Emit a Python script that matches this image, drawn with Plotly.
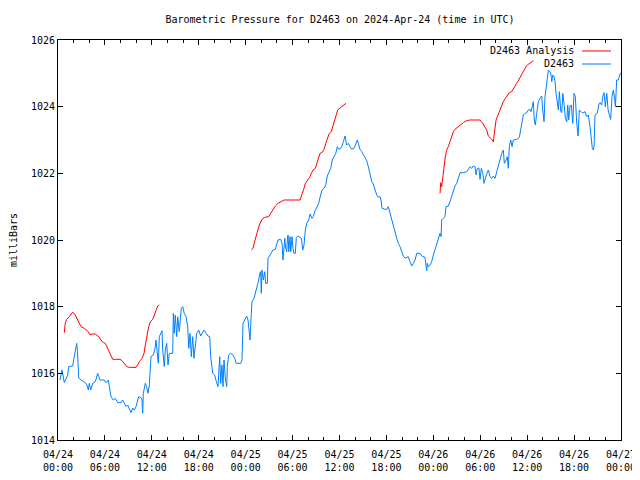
import datetime as dt
import plotly.graph_objects as go

# ---- data (hours since 2024-04-24 00:00 UTC, pressure in mbar) ----
obs_hours = [0.26, 0.51, 0.81, 1.24, 1.37, 1.88, 2.08, 2.30, 2.39, 2.49, 2.65, 2.94, 3.36, 3.71, 3.88, 4.00, 4.18, 4.44, 4.77, 5.08,
             5.37, 5.92, 6.14, 6.43, 6.56, 6.78, 7.07, 7.33, 7.64, 8.06, 8.27, 8.48, 8.70, 8.91, 9.12, 9.34, 9.55, 9.76, 9.98, 10.19,
             10.32, 10.62, 10.74, 10.83, 10.91, 11.17, 11.34, 11.51, 11.68, 11.89, 12.19, 12.41, 12.53, 12.66, 12.83, 12.96, 13.17, 13.30, 13.39, 13.59,
             13.72, 13.90, 14.07, 14.23, 14.67, 14.75, 14.87, 15.00, 15.18, 15.31, 15.51, 15.64, 15.77, 15.95, 16.15, 16.37, 16.59, 16.72, 16.88, 17.05,
             17.23, 17.39, 17.56, 17.74, 17.99, 18.25, 18.67, 19.18, 19.40, 19.53, 19.78, 20.04, 20.25, 20.46, 20.68, 20.81, 20.97, 21.10, 21.23, 21.40,
             21.58, 21.65, 21.83, 22.09, 22.38, 22.60, 22.80, 23.37, 23.53, 23.66, 23.88, 24.13, 24.30, 24.39, 24.56, 24.72, 24.81, 25.07, 25.23, 25.49,
             25.67, 25.80, 25.92, 26.00, 26.09, 26.26, 26.44, 26.56, 26.77, 26.86, 27.08, 27.28, 27.50, 27.79, 27.97, 28.14, 28.48, 28.65, 28.78, 28.91,
             29.00, 29.12, 29.25, 29.33, 29.42, 29.51, 29.67, 29.76, 29.93, 30.05, 30.18, 30.35, 30.48, 30.69, 30.95, 31.12, 31.30, 31.46, 31.63, 31.81,
             32.06, 32.23, 32.48, 32.65, 32.83, 33.09, 33.34, 33.51, 33.76, 34.02, 34.24, 34.44, 34.62, 34.88, 35.08, 35.30, 35.52, 35.72, 35.90, 36.16,
             36.32, 36.49, 36.71, 36.92, 37.13, 37.34, 37.56, 37.86, 38.11, 38.28, 38.41, 38.62, 38.84, 39.05, 39.26, 39.48, 39.69, 39.90, 40.12, 40.32,
             40.54, 40.76, 40.96, 41.18, 41.31, 41.44, 41.82, 42.04, 42.24, 42.37, 42.55, 42.81, 42.97, 43.14, 43.32, 43.52, 43.74, 43.96, 44.16, 44.38,
             44.60, 44.80, 45.02, 45.24, 45.44, 45.66, 45.88, 46.30, 46.51, 46.72, 46.94, 47.07, 47.16, 47.23, 47.36, 47.58, 47.79, 48.00, 48.22, 48.43,
             48.64, 48.86, 48.99, 49.07, 49.28, 49.49, 49.62, 49.92, 50.13, 50.35, 50.56, 50.77, 50.99, 51.20, 51.41, 51.84, 52.27, 52.48, 52.69, 52.91,
             53.11, 53.33, 53.46, 53.63, 53.84, 53.97, 54.14, 54.32, 54.48, 54.74, 55.03, 55.25, 55.47, 55.67, 55.89, 56.11, 56.31, 56.53, 56.75, 56.95,
             57.08, 57.30, 57.46, 57.59, 57.72, 57.90, 58.06, 58.23, 58.66, 59.00, 59.17, 59.34, 59.51, 59.72, 59.94, 60.15, 60.37, 60.49, 60.66, 60.79,
             60.91, 61.04, 61.22, 61.43, 61.64, 61.86, 61.99, 62.16, 62.28, 62.41, 62.58, 62.71, 62.84, 63.01, 63.14, 63.27, 63.44, 63.57, 63.69, 63.86,
             63.99, 64.12, 64.30, 64.43, 64.55, 64.71, 64.88, 65.06, 65.19, 65.31, 65.48, 65.65, 65.83, 65.99, 66.16, 66.34, 66.51, 66.67, 66.85, 67.01,
             67.18, 67.40, 67.61, 67.82, 68.04, 68.17, 68.33, 68.46, 68.55, 68.68, 68.97, 69.15, 69.32, 69.53, 69.66, 69.83, 70.00, 70.18, 70.35, 70.51,
             70.68, 70.85, 71.02, 71.20, 71.28, 71.45, 71.66, 71.87, 72.00]
obs_mbar = [1015.8, 1016.1, 1015.72, 1015.95, 1016.2, 1016.22, 1016.5, 1016.8, 1016.9, 1016.65, 1015.86, 1015.8, 1015.75, 1015.65, 1015.5, 1015.7, 1015.5, 1015.7, 1015.75, 1016.0,
            1015.8, 1015.8, 1015.72, 1015.8, 1015.56, 1015.3, 1015.2, 1015.25, 1015.12, 1015.12, 1015.2, 1015.1, 1015.0, 1015.05, 1014.95, 1014.82, 1014.96, 1014.9, 1015.0, 1015.15,
            1015.3, 1015.27, 1015.22, 1014.8, 1015.4, 1015.7, 1015.6, 1015.4, 1015.65, 1016.5, 1016.55, 1016.75, 1017.0, 1016.7, 1016.3, 1017.1, 1017.2, 1017.28, 1016.7, 1016.2,
            1016.7, 1016.9, 1016.25, 1016.6, 1016.6, 1017.8, 1017.2, 1017.75, 1017.1, 1017.7, 1017.25, 1017.8, 1017.95, 1018.0, 1017.8, 1017.7, 1017.4, 1016.75, 1017.2, 1016.5,
            1017.1, 1016.45, 1016.75, 1017.2, 1017.3, 1017.12, 1017.3, 1017.12, 1017.1, 1016.5, 1016.0, 1015.95, 1015.75, 1015.6, 1016.5, 1015.7, 1016.25, 1015.6, 1016.4, 1015.85,
            1015.6, 1016.2, 1016.55, 1016.6, 1016.55, 1016.45, 1016.3, 1016.3, 1016.4, 1017.5, 1017.6, 1017.72, 1017.6, 1017.4, 1017.0, 1017.8, 1018.15, 1018.25, 1018.4, 1018.6,
            1018.8, 1019.0, 1019.05, 1018.4, 1019.1, 1018.8, 1019.05, 1018.7, 1018.7, 1019.45, 1019.55, 1019.6, 1019.7, 1019.72, 1019.85, 1020.0, 1020.02, 1019.9, 1019.4, 1019.85,
            1020.05, 1019.75, 1019.65, 1020.0, 1020.15, 1019.65, 1020.1, 1019.65, 1020.1, 1019.75, 1019.6, 1019.6, 1020.08, 1020.12, 1020.08, 1020.05, 1019.7, 1019.85, 1020.3, 1020.5,
            1020.6, 1020.78, 1020.65, 1020.7, 1020.85, 1020.98, 1021.1, 1021.28, 1021.5, 1021.55, 1021.65, 1021.92, 1022.0, 1022.15, 1022.4, 1022.5, 1022.6, 1022.8, 1022.72, 1022.75,
            1022.82, 1022.95, 1023.12, 1022.85, 1022.9, 1022.8, 1022.72, 1022.75, 1022.88, 1023.0, 1022.9, 1022.72, 1022.65, 1022.55, 1022.45, 1022.38, 1022.2, 1022.0, 1021.75, 1021.68,
            1021.48, 1021.35, 1021.28, 1021.3, 1021.2, 1020.95, 1020.92, 1020.92, 1021.0, 1020.88, 1020.7, 1020.55, 1020.4, 1020.2, 1020.05, 1019.9, 1019.8, 1019.65, 1019.52, 1019.45,
            1019.48, 1019.5, 1019.35, 1019.22, 1019.3, 1019.4, 1019.6, 1019.6, 1019.52, 1019.5, 1019.48, 1019.2, 1019.08, 1019.3, 1019.2, 1019.25, 1019.35, 1019.55, 1019.7, 1019.85,
            1020.05, 1020.2, 1020.1, 1020.6, 1020.65, 1020.7, 1021.0, 1021.02, 1021.15, 1021.3, 1021.45, 1021.62, 1021.7, 1021.9, 1022.02, 1022.02, 1022.05, 1022.12, 1022.2, 1022.15,
            1022.22, 1022.2, 1021.95, 1022.15, 1022.15, 1021.82, 1022.15, 1022.02, 1021.7, 1021.92, 1022.1, 1021.9, 1021.85, 1021.92, 1021.85, 1022.05, 1022.25, 1022.45, 1022.6, 1022.7,
            1022.3, 1022.4, 1022.5, 1022.15, 1022.8, 1023.0, 1022.8, 1023.0, 1023.02, 1023.08, 1023.3, 1023.6, 1023.75, 1023.8, 1023.82, 1023.9, 1023.92, 1023.85, 1024.1, 1024.15,
            1023.6, 1023.45, 1023.8, 1024.15, 1024.25, 1024.32, 1023.9, 1023.55, 1024.3, 1024.6, 1024.82, 1025.1, 1025.05, 1025.02, 1024.75, 1024.95, 1024.9, 1024.75, 1024.4, 1024.02,
            1023.9, 1024.45, 1023.85, 1023.82, 1024.4, 1024.1, 1023.65, 1023.55, 1024.05, 1023.6, 1024.02, 1024.05, 1023.5, 1024.4, 1024.3, 1023.5, 1023.12, 1023.9, 1023.85, 1023.82,
            1023.82, 1023.85, 1023.7, 1023.75, 1023.4, 1023.05, 1022.75, 1022.7, 1022.8, 1023.75, 1023.8, 1024.05, 1024.12, 1024.05, 1024.3, 1024.42, 1024.0, 1024.4, 1023.9, 1023.75,
            1023.62, 1024.3, 1024.5, 1024.2, 1024.0, 1024.8, 1024.8, 1024.98, 1025.0]

# Analysis: three separate runs (None marks a gap)
ana_hours = [0.81, 0.93, 1.11, 1.45, 1.79, 1.96, 2.21, 2.47, 2.72, 2.94, 3.36, 3.67, 3.88, 4.09, 4.35, 4.77, 4.95, 5.21, 5.50, 5.79,
             6.05, 6.27, 6.48, 6.78, 7.00, 7.33, 7.64, 7.93, 8.19, 8.48, 8.79, 9.12, 9.55, 9.98, 10.19, 10.40, 10.74, 11.00, 11.17, 11.34,
             11.60, 11.80, 12.11, 12.32, 12.53, 12.75, 12.96, None,
             24.72, 24.94, 25.07, 25.23, 25.41, 25.58, 25.75, 25.92, 26.09, 26.44, 26.95, 27.20, 27.50, 27.79, 28.14, 28.56, 28.91, 30.95, 31.21, 31.46,
             31.63, 31.88, 32.19, 32.40, 32.61, 32.91, 33.09, 33.34, 33.51, 33.76, 34.02, 34.24, 34.44, 34.70, 34.95, 35.13, 35.30, 35.46, 35.77, 36.28,
             36.83, None,
             48.86, 48.94, 49.07, 49.20, 49.37, 49.53, 49.71, 49.92, 50.13, 50.35, 50.56, 50.77, 51.07, 51.41, 51.84, 52.27, 52.69, 53.97, 54.32, 54.61,
             54.83, 55.03, 55.25, 55.47, 55.67, 55.85, 56.02, 56.19, 56.44, 56.66, 56.95, 57.21, 57.46, 57.72, 58.02, 58.32, 58.66, 58.92, 59.17, 59.43,
             59.72, 60.02, 60.37, 60.79]
ana_mbar = [1017.22, 1017.5, 1017.62, 1017.7, 1017.82, 1017.82, 1017.75, 1017.62, 1017.48, 1017.4, 1017.35, 1017.3, 1017.25, 1017.15, 1017.18, 1017.18, 1017.15, 1017.1, 1017.0, 1016.92,
            1016.9, 1016.8, 1016.68, 1016.52, 1016.42, 1016.42, 1016.43, 1016.42, 1016.38, 1016.3, 1016.2, 1016.18, 1016.18, 1016.18, 1016.25, 1016.35, 1016.45, 1016.6, 1016.85, 1017.1,
            1017.4, 1017.55, 1017.62, 1017.75, 1017.9, 1018.02, 1018.05, None,
            1019.7, 1019.75, 1019.88, 1020.05, 1020.2, 1020.32, 1020.45, 1020.55, 1020.62, 1020.68, 1020.7, 1020.8, 1020.92, 1021.02, 1021.1, 1021.15, 1021.2, 1021.2, 1021.35, 1021.55,
            1021.7, 1021.78, 1021.88, 1022.0, 1022.1, 1022.15, 1022.3, 1022.45, 1022.6, 1022.62, 1022.72, 1022.9, 1023.05, 1023.2, 1023.25, 1023.4, 1023.52, 1023.6, 1023.9, 1024.0,
            1024.1, None,
            1021.4, 1021.72, 1021.6, 1021.9, 1022.2, 1022.5, 1022.7, 1022.8, 1022.95, 1023.1, 1023.25, 1023.32, 1023.38, 1023.45, 1023.52, 1023.58, 1023.6, 1023.6, 1023.5, 1023.38,
            1023.3, 1023.12, 1023.08, 1023.02, 1022.95, 1023.25, 1023.6, 1023.7, 1023.85, 1024.02, 1024.15, 1024.25, 1024.35, 1024.42, 1024.45, 1024.55, 1024.7, 1024.8, 1024.92, 1025.05,
            1025.15, 1025.25, 1025.3, 1025.38]

title_text = "Barometric Pressure for D2463 on 2024-Apr-24 (time in UTC)"
y_title = "milliBars"
ana_name = "D2463 Analysis"
obs_name = "D2463"
y_ticks = [1014, 1016, 1018, 1020, 1022, 1024, 1026]

BASE = dt.datetime(2024, 4, 24, 0, 0)


def to_time(hours):
    return [None if h is None else BASE + dt.timedelta(hours=h) for h in hours]


FONT = "DejaVu Sans Mono"
RED = "#ff0000"
BLUE = "#0080ff"

# the page body adds an 8 px offset, so the figure is sized/margined to compensate
W, H = 632, 472
ML, MR, MT, MB = 50, 19, 32, 40
PW, PH = W - ML - MR, H - MT - MB

fig = go.Figure()
fig.add_trace(go.Scatter(x=to_time(ana_hours), y=ana_mbar, mode="lines", name=ana_name,
                         line=dict(color=RED, width=1), connectgaps=False, showlegend=False))
fig.add_trace(go.Scatter(x=to_time(obs_hours), y=obs_mbar, mode="lines", name=obs_name,
                         line=dict(color=BLUE, width=1), showlegend=False))

# gnuplot-style legend: text right-aligned, line sample to the right
for i, (name, col) in enumerate([(ana_name, RED), (obs_name, BLUE)]):
    ypix = 10 + i * 13          # pixels below plot top
    yp = 1 - ypix / PH
    fig.add_annotation(xref="paper", yref="paper", x=518 / PW, y=yp, text=name,
                       showarrow=False, xanchor="right", yanchor="middle",
                       font=dict(family=FONT, size=10, color="black"))
    fig.add_shape(type="line", xref="paper", yref="paper",
                  x0=524 / PW, x1=553 / PW, y0=yp - 1.0 / PH, y1=yp - 1.0 / PH,
                  line=dict(color=col, width=1))

fig.update_layout(
    width=W, height=H,
    margin=dict(l=ML, r=MR, t=MT, b=MB, pad=0),
    paper_bgcolor="white", plot_bgcolor="white",
    font=dict(family=FONT, size=10, color="black"),
    title=dict(text=title_text, x=332 / W, xanchor="center", y=1 - 11 / H, yanchor="middle",
               font=dict(family=FONT, size=10, color="black")),
    showlegend=False,
)
fig.update_xaxes(
    type="date",
    range=[BASE, BASE + dt.timedelta(hours=72)],
    dtick=6 * 3600 * 1000, tick0=BASE,
    tickformat="%m/%d<br>%H:%M",
    ticks="inside", ticklen=5, tickcolor="black",
    minor=dict(dtick=2 * 3600 * 1000, ticks="inside", ticklen=3, tickcolor="black", showgrid=False),
    showline=True, linecolor="black", linewidth=1, mirror="allticks",
    showgrid=False, zeroline=False, automargin=False,
    ticklabelstandoff=5,
    tickfont=dict(family=FONT, size=10),
)
fig.update_yaxes(
    range=[1014, 1026], tickvals=y_ticks,
    ticks="inside", ticklen=5, tickcolor="black",
    showline=True, linecolor="black", linewidth=1, mirror="allticks",
    showgrid=False, zeroline=False, automargin=False,
    title=dict(text=y_title, font=dict(family=FONT, size=10), standoff=14),
    tickfont=dict(family=FONT, size=10),
)

fig.write_html("out.html")
